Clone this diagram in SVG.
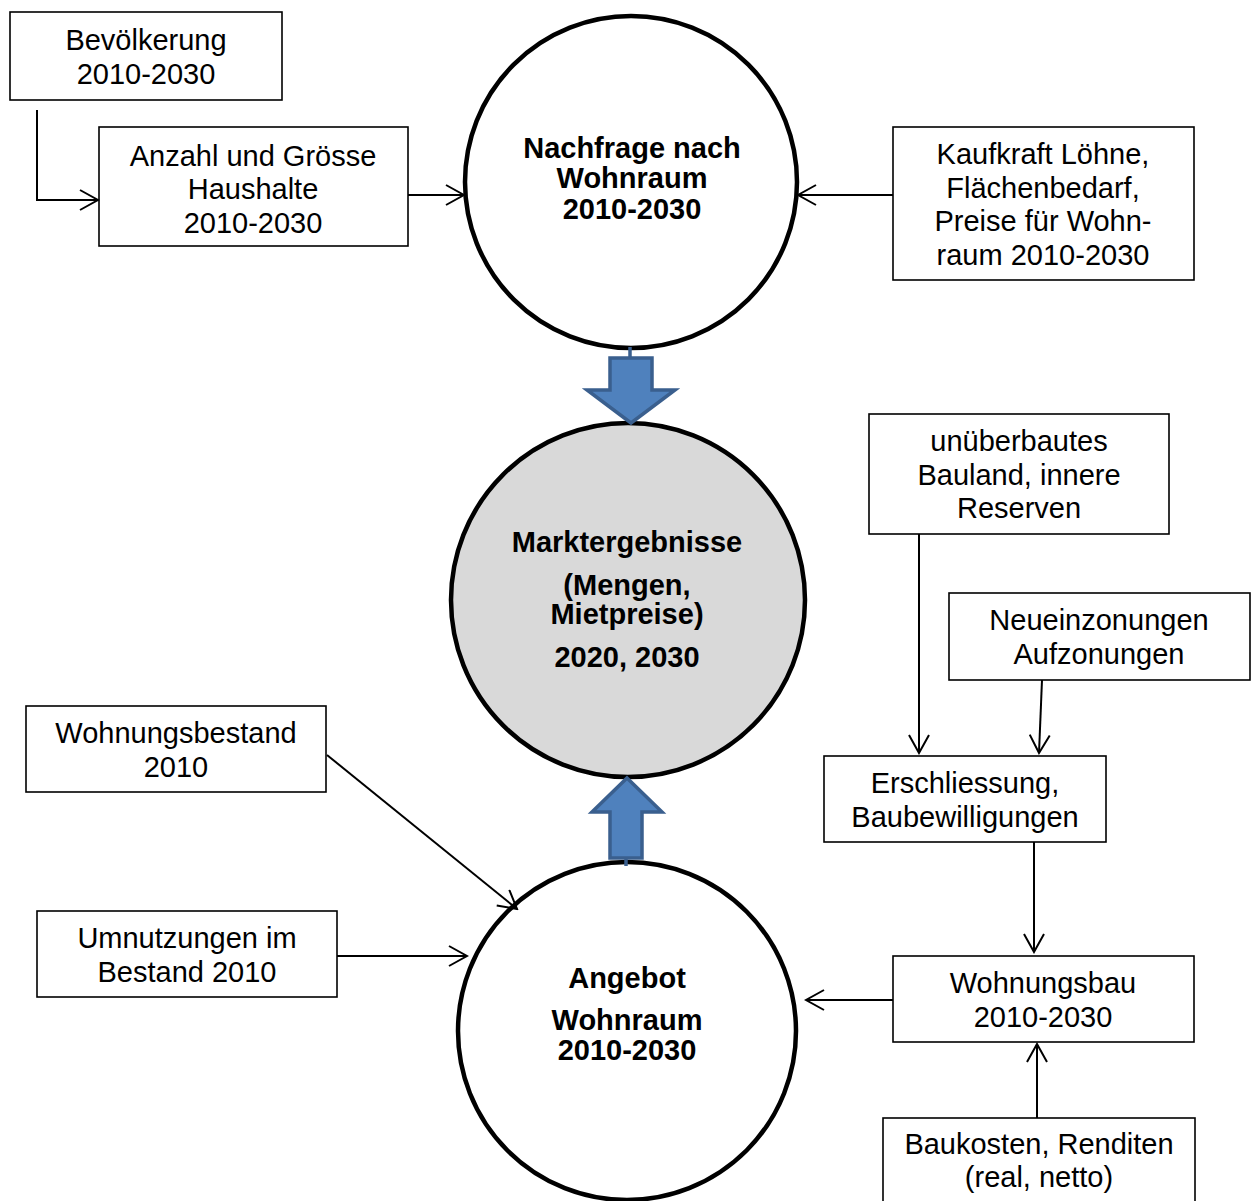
<svg xmlns="http://www.w3.org/2000/svg" width="1255" height="1201" viewBox="0 0 1255 1201">
<style>
.box{fill:#fff;stroke:#000;stroke-width:1.6}
.circ{fill:#fff;stroke:#000;stroke-width:4.5}
.t{font-family:"Liberation Sans",Arial,sans-serif;font-size:29px;fill:#000;text-anchor:middle}
.b{font-family:"Liberation Sans",Arial,sans-serif;font-size:29px;font-weight:bold;fill:#000;text-anchor:middle}
.c{fill:none;stroke:#000;stroke-width:2}
.blk{fill:#4f81bd;stroke:#3a5f8e;stroke-width:3.5;stroke-linejoin:miter}
</style>
<defs>
<marker id="ah" markerWidth="22" markerHeight="22" viewBox="0 0 22 22" refX="20" refY="11" orient="auto" markerUnits="userSpaceOnUse">
<path d="M2,1 L20,11 L2,21" fill="none" stroke="#000" stroke-width="2"/>
</marker>
</defs>
<rect width="1255" height="1201" fill="#fff"/>
<g id="nachfrage"><circle class="circ" cx="631" cy="182" r="166"/>
<text class="b" x="632" y="158">Nachfrage nach</text><text class="b" x="632" y="188">Wohnraum</text><text class="b" x="632" y="219">2010-2030</text></g>
<g id="markt"><circle class="circ" cx="628" cy="600" r="177" style="fill:#d9d9d9"/>
<text class="b" x="627" y="552">Marktergebnisse</text><text class="b" x="627" y="595">(Mengen,</text><text class="b" x="627" y="624">Mietpreise)</text><text class="b" x="627" y="667">2020, 2030</text></g>
<g id="angebot"><circle class="circ" cx="627" cy="1031" r="169"/>
<text class="b" x="627" y="988">Angebot</text><text class="b" x="627" y="1030">Wohnraum</text><text class="b" x="627" y="1060">2010-2030</text></g>
<g id="bevoelkerung"><rect class="box" x="10" y="12" width="272" height="88"/>
<text class="t" x="146" y="50">Bevölkerung</text><text class="t" x="146" y="84">2010-2030</text></g>
<g id="haushalte"><rect class="box" x="99" y="127" width="309" height="119"/>
<text class="t" x="253" y="166">Anzahl und Grösse</text><text class="t" x="253" y="199">Haushalte</text><text class="t" x="253" y="233">2010-2030</text></g>
<g id="kaufkraft"><rect class="box" x="893" y="127" width="301" height="153"/>
<text class="t" x="1043" y="164">Kaufkraft Löhne,</text><text class="t" x="1043" y="198">Flächenbedarf,</text><text class="t" x="1043" y="231">Preise für Wohn-</text><text class="t" x="1043" y="265">raum 2010-2030</text></g>
<g id="bauland"><rect class="box" x="869" y="414" width="300" height="120"/>
<text class="t" x="1019" y="451">unüberbautes</text><text class="t" x="1019" y="485">Bauland, innere</text><text class="t" x="1019" y="518">Reserven</text></g>
<g id="neueinzonungen"><rect class="box" x="949" y="593" width="301" height="87"/>
<text class="t" x="1099" y="630">Neueinzonungen</text><text class="t" x="1099" y="664">Aufzonungen</text></g>
<g id="erschliessung"><rect class="box" x="824" y="756" width="282" height="86"/>
<text class="t" x="965" y="793">Erschliessung,</text><text class="t" x="965" y="827">Baubewilligungen</text></g>
<g id="wohnungsbau"><rect class="box" x="893" y="956" width="301" height="86"/>
<text class="t" x="1043" y="993">Wohnungsbau</text><text class="t" x="1043" y="1027">2010-2030</text></g>
<g id="baukosten"><rect class="box" x="883" y="1118" width="312" height="90"/>
<text class="t" x="1039" y="1154">Baukosten, Renditen</text><text class="t" x="1039" y="1187">(real, netto)</text></g>
<g id="wohnungsbestand"><rect class="box" x="26" y="706" width="300" height="86"/>
<text class="t" x="176" y="743">Wohnungsbestand</text><text class="t" x="176" y="777">2010</text></g>
<g id="umnutzungen"><rect class="box" x="37" y="911" width="300" height="86"/>
<text class="t" x="187" y="948">Umnutzungen im</text><text class="t" x="187" y="982">Bestand 2010</text></g>
<g id="connectors">
<path class="c" d="M37,110 V200 H98" marker-end="url(#ah)"/>
<path class="c" d="M408,195 H464" marker-end="url(#ah)"/>
<path class="c" d="M893,195 H798" marker-end="url(#ah)"/>
<path class="c" d="M919,534 V753" marker-end="url(#ah)"/>
<path class="c" d="M1042,680 L1039,753" marker-end="url(#ah)"/>
<path class="c" d="M1034,842 V952" marker-end="url(#ah)"/>
<path class="c" d="M893,1000 H806" marker-end="url(#ah)"/>
<path class="c" d="M1037,1118 V1044" marker-end="url(#ah)"/>
<path class="c" d="M327,755 L517,909" marker-end="url(#ah)"/>
<path class="c" d="M337,956 H467" marker-end="url(#ah)"/>
<g id="blockdown"><line x1="630" y1="347" x2="630" y2="358" stroke="#3a5f8e" stroke-width="3.5"/>
<path class="blk" d="M610,358 H652 V390 H675 L631,423 L587,390 H610 Z"/></g>
<g id="blockup"><line x1="626" y1="857" x2="626" y2="866" stroke="#3a5f8e" stroke-width="3.5"/>
<path class="blk" d="M627,778 L662,812 H642 V858 H610 V812 H592 Z"/></g>
</g>
</svg>
